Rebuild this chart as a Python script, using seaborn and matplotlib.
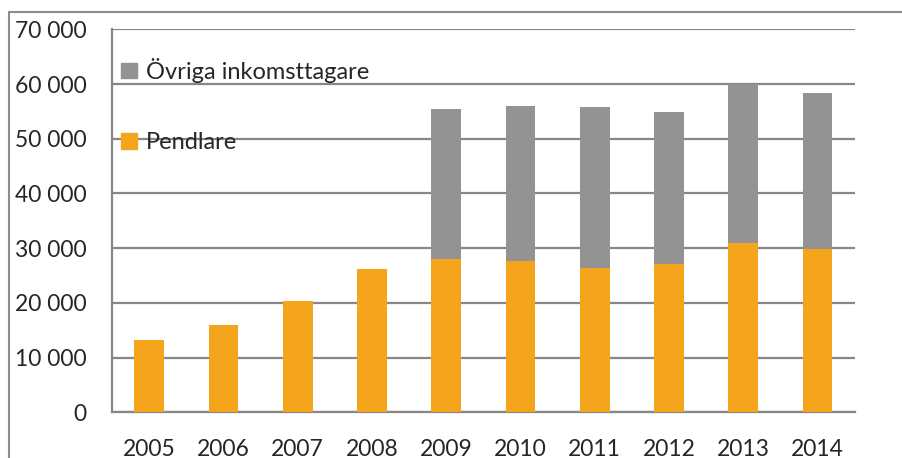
import seaborn as sb
import pandas as pd
import matplotlib.pyplot as plt
from matplotlib.patches import Patch
from matplotlib.lines import Line2D
from matplotlib.ticker import FuncFormatter, FixedLocator

years = ["2005", "2006", "2007", "2008", "2009", "2010", "2011", "2012", "2013", "2014"]
pendlare = [13200, 15900, 20300, 26200, 28100, 27650, 26300, 27150, 31000, 29850]
ovriga = [0, 0, 0, 0, 27400, 28350, 29500, 27700, 29000, 28450]

orange = "#F4A51B"
grey = "#939393"
linegrey = "#878787"

mydata = pd.DataFrame({"year": years, "Pendlare": pendlare, "Övriga": ovriga})
mydata["total"] = mydata["Pendlare"] + mydata["Övriga"]

sb.set_style("white")
plt.rcParams["font.family"] = ["Lato", "DejaVu Sans"]

fig = plt.figure(figsize=(9.03, 4.58), dpi=100)
ax = fig.add_axes([0.124, 0.0998, 0.8225, 0.8362])

# stacked bars: total in grey, pendlare drawn over it
sb.barplot(x="year", y="total", data=mydata, color=grey, width=0.4, saturation=1,
           linewidth=0, ax=ax, zorder=3)
sb.barplot(x="year", y="Pendlare", data=mydata, color=orange, width=0.4, saturation=1,
           linewidth=0, ax=ax, zorder=4)

ax.set_ylim(0, 70000)
ax.set_xlim(-0.5, 9.5)
ax.set_yticks(range(0, 70001, 10000))
ax.yaxis.set_major_formatter(FuncFormatter(lambda v, p: f"{v:,.0f}".replace(",", " ")))
ax.grid(axis="y", color=linegrey, linewidth=1.6, zorder=0)
ax.set_axisbelow(True)
ax.set_xlabel("")
ax.set_ylabel("")

for s in ["top", "right"]:
    ax.spines[s].set_visible(False)
for s in ["left", "bottom"]:
    ax.spines[s].set_color(linegrey)
    ax.spines[s].set_linewidth(1.6)

ax.tick_params(axis="y", length=6.5, width=1.6, color=linegrey, pad=12, labelsize=16.5)
ax.tick_params(axis="x", which="major", length=0, pad=19, labelsize=16.5)
ax.xaxis.set_minor_locator(FixedLocator([i - 0.5 for i in range(11)]))
ax.tick_params(axis="x", which="minor", length=6, width=1.6, color=linegrey)

handles = [Patch(color=grey, label="Övriga inkomsttagare"), Patch(color=orange, label="Pendlare")]
ax.legend(handles=handles, loc="upper left", bbox_to_anchor=(0.0, 0.95), frameon=False,
          fontsize=17, handlelength=0.65, handleheight=0.65, handletextpad=0.4,
          labelspacing=2.1, borderaxespad=0)

# outer chart frame (left and top visible)
fig.add_artist(Line2D([9 / 903, 9 / 903], [0, 1 - 12 / 458], color="#8c8c8c", linewidth=1.5))
fig.add_artist(Line2D([9 / 903, 1], [1 - 12 / 458, 1 - 12 / 458], color="#8c8c8c", linewidth=1.5))

plt.savefig("out.png", dpi=100)
